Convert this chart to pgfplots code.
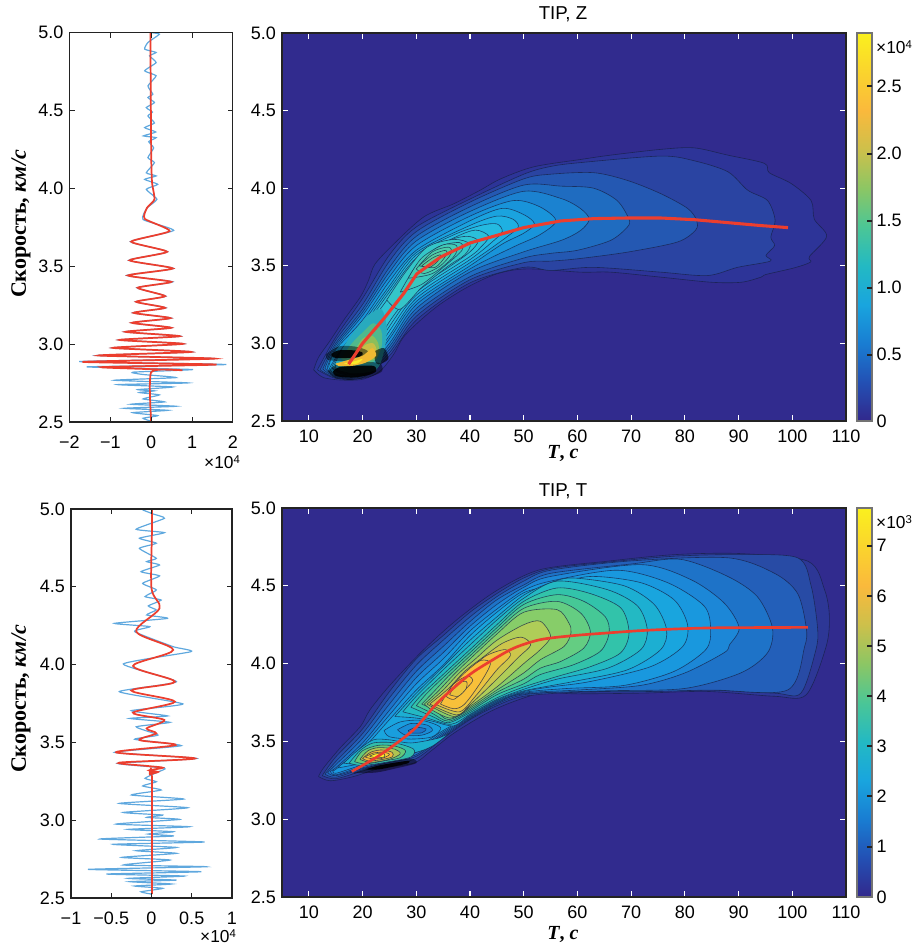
\documentclass[border=0pt]{standalone}
\usepackage{pgfplots}
\pgfplotsset{compat=1.18}
\usepackage{fontspec}
\setmainfont{Liberation Sans}
\newfontfamily\lserif{Liberation Serif}
\definecolor{bg}{RGB}{49,43,142}
\definecolor{cl}{RGB}{22,32,70}
\definecolor{fr}{RGB}{35,35,35}
\definecolor{rd}{RGB}{236,62,46}
\definecolor{bl}{RGB}{95,168,222}
\newcommand\pc[2]{\addplot[smooth,fill={rgb,255:#1},draw=cl,draw opacity=.75,line width=.45pt] coordinates {#2};}
\newcommand\pn[2]{\addplot[smooth,fill={rgb,255:#1},draw=none] coordinates {#2};}
\newcommand\ph[2]{\addplot[smooth,fill=black,fill opacity=#1,draw=none] coordinates {#2};}
\newcommand\rgbv[3]{red,#1;green,#2;blue,#3}
\pgfplotsset{
 colormap={par}{rgb255=(50,40,140) rgb255=(35,80,180) rgb255=(25,125,210) rgb255=(25,165,222) rgb255=(35,185,195) rgb255=(75,198,150) rgb255=(140,198,100) rgb255=(205,192,75) rgb255=(250,185,60) rgb255=(250,212,45) rgb255=(250,240,30)},
 lab/.style={font=\fontsize{13.5}{15}\selectfont},
 baseax/.style={scale only axis,axis on top,
   ticklabel style={lab},
   /pgf/number format/assume math mode=true,
   tick align=inside,tick pos=both,
   ymin=2.5,ymax=5,ytick={2.5,3,3.5,4,4.5,5},yticklabels={2.5,3.0,3.5,4.0,4.5,5.0},
   yticklabel style={xshift=-1pt},
   xticklabel pos=lower,yticklabel pos=left,
   scaled ticks=false},
 lftax/.style={baseax,axis line style={color=fr,line width=.8pt},xticklabel style={yshift=-7pt},
   tick style={color=fr,line width=.8pt},major tick length=4pt},
 heatax/.style={baseax,xmin=5,xmax=110,xtick={10,20,30,40,50,60,70,80,90,100,110},xticklabel style={yshift=-3pt},
   axis line style={color=fr,line width=1.9pt},
   tick style={color=white,line width=.9pt},major tick length=4.5pt,
   axis background/.style={fill=bg},clip=true,
   colormap name=par,colorbar,
   colorbar style={at={(1.0195,0)},anchor=south west,width=11.25pt,
     ticklabel style={lab},/pgf/number format/assume math mode=true,
     axis line style={color=black!55,line width=.8pt},
     tick align=inside,major tick length=0pt,ytick pos=right,yticklabel pos=right,xtick=\empty,scaled ticks=false,
     yticklabel style={xshift=0pt}}}
}
\begin{document}
\begin{tikzpicture}
\useasboundingbox (0,0) rectangle (692.25pt,708.75pt);
% ---------- top left
\begin{axis}[lftax,at={(52.1pt,392.25pt)},anchor=south west,width=122.6pt,height=292pt,
  xmin=-2,xmax=2,xtick={-2,-1,0,1,2},xticklabels={−2,−1,0,1,2}]
\addplot[bl,line width=.9pt,smooth,tension=.3] coordinates {(0,2.505)(-.2,2.524)(.16,2.541)(-.45,2.56)(.41,2.575)(-.66,2.588)(.61,2.601)(-.49,2.614)(.33,2.629)(-.2,2.648)(.2,2.674)(-.29,2.689)(.08,2.70)(-.33,2.708)(.53,2.725)(-.82,2.74)(.9,2.751)(-.9,2.768)(.61,2.785)(-.2,2.805)(-.45,2.82)(1.01,2.837)(-1.58,2.854)(1.84,2.869)(-1.76,2.888)(1.56,2.907)(-1.33,2.927)(1.0,2.95)(-.96,2.976)(.8,3.002)(-.8,3.027)(.72,3.051)(-.65,3.079)(.5,3.105)(-.48,3.137)(.49,3.167)(-.45,3.201)(.36,3.233)(-.38,3.272)(.36,3.308)(-.35,3.362)(.53,3.40)(-.6,3.441)(.55,3.486)(-.55,3.538)(.4,3.593)(-.51,3.658)(.55,3.73)(-.2,3.80)(-.1,3.875)(.14,3.93)(-.12,3.994)(.16,4.026)(-.16,4.058)(.12,4.08)(-.12,4.10)(.08,4.165)(-.08,4.197)(.06,4.26)(-.06,4.30)(.12,4.326)(-.19,4.337)(.11,4.362)(-.16,4.39)(.08,4.42)(-.08,4.465)(.03,4.49)(-.12,4.519)(.08,4.551)(-.08,4.583)(.04,4.605)(-.08,4.658)(.12,4.723)(-.16,4.755)(.12,4.808)(-.04,4.851)(.12,4.873)(-.16,4.894)(-.08,4.937)(.2,4.99)(0,5.0)};
\addplot[rd,line width=1.3pt,smooth,tension=.35] coordinates {(0,2.5)(0,2.82)(.76,2.832)(-1.23,2.852)(1.6,2.869)(-1.68,2.886)(1.56,2.907)(-1.29,2.927)(.98,2.95)(-.94,2.976)(.78,3.002)(-.78,3.027)(.70,3.051)(-.63,3.079)(.49,3.105)(-.47,3.137)(.47,3.167)(-.43,3.201)(.34,3.233)(-.37,3.272)(.34,3.308)(-.33,3.362)(.49,3.40)(-.57,3.441)(.53,3.486)(-.53,3.538)(.39,3.593)(-.49,3.658)(.45,3.726)(-.16,3.805)(-.1,3.876)(.08,3.93)(.02,4.04)(0,4.23)(-.02,5.0)};
\end{axis}
% ---------- top heat
\begin{axis}[heatax,at={(211.5pt,393pt)},anchor=south west,width=423pt,height=291pt,
  point meta min=0,point meta max=2.9,
  colorbar style={ymin=0,ymax=2.9,ytick={0,.5,1,1.5,2,2.5},yticklabels={0,0.5,1.0,1.5,2.0,2.5}}]
\pc{\rgbv{45}{52}{152}}{(10.9,2.83)(11.8,2.91)(14,3.02)(16.5,3.15)(19.6,3.30)(21.1,3.405)(22.3,3.51)(25.8,3.64)(31.4,3.815)(37,3.90)(41.9,3.987)(45.7,4.06)(51.9,4.138)(60.6,4.185)(66.2,4.213)(75.5,4.25)(81.7,4.26)(88,4.213)(94.8,4.16)(95.7,4.10)(99.8,4.03)(103.5,3.92)(104.1,3.80)(106.4,3.69)(103.2,3.56)(103.4,3.524)(100.4,3.487)(95.1,3.444)(94.2,3.427)(90.5,3.394)(84.9,3.394)(75.5,3.427)(66.2,3.459)(60.6,3.459)(50.6,3.48)(45,3.448)(39.5,3.362)(34.5,3.254)(30.7,3.147)(27.6,3.04)(25.8,2.93)(23.3,2.823)(20.2,2.77)(16.4,2.763)(12.7,2.78)(10.9,2.83)}
\pc{\rgbv{42}{68}{162}}{(11.6,2.83)(15,3.04)(20,3.29)(25,3.57)(30,3.75)(40,3.93)(50,4.09)(55,4.14)(60.6,4.165)(75.5,4.207)(81.7,4.177)(88,4.106)(91.7,3.987)(95.4,3.92)(96.8,3.793)(96,3.685)(96.7,3.63)(95.1,3.567)(95.9,3.53)(89.8,3.49)(84.2,3.437)(75.5,3.459)(63,3.49)(55,3.47)(50,3.49)(40,3.39)(30,3.15)(25,2.92)(20,2.78)(15,2.775)(11.6,2.83)}
\pc{\rgbv{36}{88}{178}}{(12.1,2.83)(15,3.02)(20,3.25)(25,3.53)(30,3.72)(40,3.91)(50,4.06)(55,4.09)(63,4.10)(69.3,4.05)(75.5,3.965)(80.5,3.87)(82.2,3.793)(82,3.73)(78.6,3.653)(69.3,3.588)(60,3.545)(55,3.53)(50,3.52)(40,3.41)(30,3.175)(25,2.94)(20,2.79)(15,2.78)(12.1,2.83)}
\pc{\rgbv{31}{108}{192}}{(12.6,2.835)(15,3.0)(20,3.22)(25,3.49)(30,3.69)(40,3.88)(50,4.02)(57,4.013)(63,4.0)(67.4,3.92)(69.6,3.80)(69.3,3.75)(66.2,3.664)(60,3.60)(55,3.58)(50,3.55)(40,3.43)(30,3.20)(25,2.96)(20,2.795)(15,2.785)(12.6,2.835)}
\pc{\rgbv{27}{130}{208}}{(13,2.84)(15,2.985)(20,3.20)(25,3.46)(30,3.66)(40,3.85)(50,3.98)(57,3.933)(60.6,3.868)(62.2,3.80)(60.6,3.728)(57,3.664)(50,3.59)(40,3.46)(30,3.225)(25,2.98)(20,2.80)(15,2.79)(13,2.84)}
\pc{\rgbv{24}{148}{218}}{(13.4,2.84)(15,2.97)(20,3.18)(25,3.43)(30,3.63)(40,3.82)(48,3.92)(53,3.88)(56,3.79)(53,3.70)(48,3.62)(40,3.48)(30,3.25)(25,3.0)(20,2.805)(15,2.795)(13.4,2.84)}
\pc{\rgbv{26}{163}{222}}{(13.7,2.85)(15,2.96)(20,3.15)(25,3.40)(30,3.60)(40,3.79)(46,3.87)(50,3.83)(52,3.77)(50,3.71)(46,3.64)(40,3.50)(30,3.27)(25,3.03)(20,2.81)(15,2.80)(13.7,2.85)}
\pc{\rgbv{30}{176}{226}}{(14,2.85)(16,2.96)(20,3.13)(25,3.37)(30,3.585)(40,3.76)(45,3.82)(48,3.80)(49,3.75)(47,3.69)(43,3.59)(40,3.52)(30,3.29)(25,3.05)(20,2.815)(16,2.805)(14,2.85)}
\pc{\rgbv{36}{186}{224}}{(14.3,2.85)(16,2.95)(20,3.11)(25,3.35)(30,3.57)(37,3.70)(42,3.76)(45,3.77)(46,3.72)(44,3.65)(40,3.54)(30,3.31)(25,3.08)(20,2.82)(16,2.81)(14.3,2.85)}
\pc{\rgbv{42}{191}{218}}{(14.6,2.85)(16,2.94)(20,3.09)(25,3.33)(30,3.55)(37,3.68)(41,3.73)(43.5,3.69)(42,3.62)(40,3.56)(30,3.33)(25,3.11)(20,2.825)(16,2.815)(14.6,2.85)}
\pc{\rgbv{46}{195}{210}}{(14.9,2.85)(16,2.93)(20,3.07)(25,3.30)(30,3.52)(36,3.66)(39.5,3.69)(41.5,3.66)(40,3.59)(36,3.49)(30,3.35)(25,3.14)(20,2.83)(16,2.82)(14.9,2.85)}
% centre blob
\pc{\rgbv{52}{198}{200}}{(24.5,3.28)(28,3.46)(32,3.62)(37,3.67)(40,3.64)(39,3.57)(36,3.50)(31,3.36)(27,3.22)(24.5,3.28)}
\pc{\rgbv{58}{200}{190}}{(27,3.33)(30,3.5)(34,3.62)(38,3.65)(38.5,3.6)(35,3.49)(31,3.38)(27,3.33)}
\pc{\rgbv{66}{203}{180}}{(28.5,3.42)(31,3.55)(35,3.635)(37.5,3.63)(37,3.56)(33,3.45)(28.5,3.42)}
\pc{\rgbv{76}{205}{170}}{(30,3.48)(33,3.59)(36,3.62)(36.5,3.58)(34.5,3.50)(31.5,3.45)(30,3.48)}
\pc{\rgbv{85}{205}{160}}{(30.5,3.5)(33,3.57)(35.5,3.60)(35.5,3.565)(33.5,3.49)(30.5,3.5)}
\pc{\rgbv{95}{205}{150}}{(31,3.5)(33,3.55)(34.5,3.57)(34,3.53)(32.5,3.49)(31,3.5)}
% left blob
\pn{\rgbv{40}{170}{190}}{(15,2.87)(16.5,2.98)(18.5,3.08)(21,3.18)(23.5,3.22)(24.5,3.1)(24,2.95)(22.5,2.83)(18,2.81)(15,2.87)}
\pn{\rgbv{80}{185}{140}}{(16,2.9)(18,3.0)(20,3.07)(22,3.13)(23.5,3.08)(23.5,2.97)(22,2.88)(19,2.87)(16,2.9)}
\pn{\rgbv{140}{190}{90}}{(18.5,2.95)(20,3.03)(21.8,3.05)(23,2.99)(22.5,2.9)(19.5,2.89)(18.5,2.95)}
\pn{\rgbv{200}{190}{70}}{(19,2.94)(20.5,2.99)(22,3.0)(22.6,2.95)(21.5,2.9)(19.5,2.9)(19,2.94)}
\ph{.45}{(13.2,2.93)(15.5,2.98)(18.5,2.98)(21,2.95)(20,2.90)(16.5,2.885)(13.5,2.895)(13.2,2.93)}
\ph{.9}{(14.2,2.93)(15.5,2.955)(18.5,2.955)(20,2.94)(19.5,2.915)(16.5,2.905)(14.5,2.91)(14.2,2.93)}
\ph{.45}{(13.5,2.82)(15,2.86)(18,2.875)(23,2.875)(23.6,2.82)(21,2.78)(18,2.765)(15,2.775)(13.5,2.82)}
\ph{.9}{(14.5,2.82)(15.5,2.845)(18,2.855)(22,2.855)(22.5,2.82)(21,2.795)(18,2.78)(15,2.79)(14.5,2.82)}
\ph{.6}{(22.3,2.95)(24,2.97)(24.8,2.90)(23,2.865)(22.3,2.89)(22.3,2.95)}
\pn{\rgbv{240}{185}{50}}{(15,2.87)(17,2.89)(20,2.92)(21.8,2.97)(22.5,2.92)(20.5,2.875)(18,2.855)(15.5,2.855)(15,2.87)}
\pn{\rgbv{250}{235}{40}}{(16.5,2.87)(18.5,2.885)(20,2.90)(19,2.87)(17.5,2.865)(16.5,2.87)}
\addplot[rd,line width=2.3pt] coordinates {(17.4,2.866)(20,3.0)(23.9,3.157)(27.6,3.319)(30.1,3.448)(34.5,3.556)(40,3.647)(45,3.696)(50,3.746)(56.9,3.789)(63.1,3.804)(69.3,3.808)(75.5,3.808)(81.8,3.797)(88,3.778)(94.2,3.759)(99.2,3.746)};
\end{axis}
% ---------- bottom left
\begin{axis}[lftax,at={(53.25pt,35.25pt)},anchor=south west,width=120.75pt,height=291.75pt,
  xmin=-1,xmax=1,xtick={-1,-.5,0,.5,1},xticklabels={−1,−0.5,0,0.5,1}]
\addplot[bl,line width=.9pt,smooth,tension=.3] coordinates {(0,2.525)(-.13,2.54)(.14,2.562)(-.21,2.577)(.25,2.59)(-.27,2.605)(.31,2.615)(-.29,2.626)(.41,2.641)(-.56,2.654)(.62,2.669)(-.79,2.684)(.68,2.701)(-.35,2.712)(.23,2.744)(-.37,2.761)(.31,2.787)(-.19,2.804)(.31,2.825)(-.48,2.845)(.66,2.86)(-.64,2.879)(.27,2.898)(-.04,2.911)(.27,2.926)(-.29,2.941)(.47,2.958)(-.44,2.975)(.35,3.005)(-.06,3.018)(.14,3.033)(-.35,3.05)(.45,3.08)(-.4,3.108)(.40,3.136)(-.25,3.162)(.12,3.194)(-.11,3.22)(.06,3.247)(-.08,3.269)(.08,3.31)(.16,3.335)(-.42,3.365)(.56,3.397)(-.46,3.436)(.37,3.479)(-.21,3.52)(.08,3.547)(-.19,3.6)(.23,3.629)(-.27,3.654)(.2,3.67)(-.25,3.704)(.39,3.747)(-.4,3.826)(.31,3.89)(-.35,4.004)(.49,4.083)(.27,4.115)(-.21,4.212)(-.02,4.244)(-.46,4.265)(.2,4.297)(-.06,4.319)(.06,4.351)(-.04,4.377)(.12,4.415)(-.08,4.437)(.06,4.48)(-.11,4.522)(.1,4.57)(-.13,4.597)(.1,4.64)(-.06,4.662)(.06,4.683)(-.15,4.747)(.06,4.78)(-.15,4.812)(.16,4.848)(-.19,4.87)(.16,4.94)(.02,4.968)(-.11,4.994)};
\addplot[rd,line width=1.3pt,smooth] coordinates {(.005,2.525)(.005,3.28)(-.02,3.295)(.08,3.31)(-.03,3.32)(.14,3.337)(-.04,3.348)(-.40,3.37)(.54,3.397)(-.44,3.436)(.30,3.483)(-.15,3.515)(.06,3.558)(-.06,3.59)(.16,3.644)(-.23,3.691)(.29,3.762)(-.25,3.833)(.29,3.890)(-.23,3.991)(.27,4.094)(-.19,4.212)(.10,4.362)(0,4.49)(.005,4.844)(.005,5.0)};
\end{axis}
% ---------- bottom heat
\begin{axis}[heatax,at={(211.5pt,36pt)},anchor=south west,width=423pt,height=291.75pt,
  point meta min=0,point meta max=7.75,
  colorbar style={ymin=0,ymax=7.75,ytick={0,1,2,3,4,5,6,7}}]
\pc{\rgbv{45}{55}{150}}{(11.8,3.274)(12.7,3.328)(15.8,3.457)(19.6,3.596)(21.4,3.704)(25.2,3.865)(31.4,4.09)(37.6,4.283)(45,4.47)(53.1,4.604)(65.6,4.658)(78,4.70)(90.4,4.707)(102.9,4.658)(106,4.475)(106.9,4.304)(106.3,4.11)(102.6,3.80)(96.7,3.79)(84.2,3.821)(71.8,3.81)(59.3,3.806)(53.8,3.815)(48.2,3.757)(43.2,3.682)(37,3.553)(32.6,3.435)(29.5,3.36)(23.3,3.328)(18.3,3.274)(14,3.247)(11.8,3.274)}
\pc{\rgbv{40}{75}{165}}{(12.5,3.28)(15,3.40)(20,3.58)(25,3.82)(30,4.03)(35,4.18)(40,4.33)(45,4.45)(50,4.55)(55,4.61)(65,4.65)(78,4.69)(90,4.70)(101,4.68)(103.5,4.5)(104.7,4.23)(104.4,4.09)(101.6,3.81)(96.7,3.81)(84.2,3.83)(71.8,3.82)(59.3,3.815)(50,3.79)(45,3.73)(40,3.64)(35,3.52)(30,3.39)(25,3.355)(20,3.31)(15,3.26)(12.5,3.28)}
\pc{\rgbv{35}{95}{185}}{(13,3.29)(15,3.37)(20,3.55)(25,3.78)(30,3.99)(35,4.15)(40,4.30)(45,4.43)(50,4.53)(55,4.60)(70,4.66)(88,4.68)(96.7,4.58)(101,4.45)(102.6,4.23)(102.3,4.11)(99.1,3.83)(85,3.83)(72,3.82)(59.3,3.82)(50,3.80)(45,3.74)(40,3.645)(35,3.53)(30,3.405)(25,3.365)(20,3.325)(15,3.27)(13,3.29)}
\pc{\rgbv{30}{115}{200}}{(13.5,3.30)(15,3.35)(20,3.52)(25,3.74)(30,3.95)(35,4.11)(40,4.27)(45,4.41)(50,4.505)(55,4.58)(70,4.64)(79.2,4.67)(88,4.56)(93.5,4.43)(96.3,4.23)(95.4,4.07)(90.4,3.94)(79.9,3.84)(65,3.825)(50,3.805)(45,3.745)(40,3.65)(35,3.54)(30,3.415)(25,3.375)(20,3.33)(15,3.28)(13.5,3.30)}
\pc{\rgbv{28}{135}{215}}{(14,3.31)(15,3.33)(20,3.49)(25,3.70)(30,3.91)(35,4.07)(40,4.24)(45,4.38)(50,4.49)(55,4.56)(71.8,4.636)(81.1,4.54)(87.3,4.39)(90.1,4.23)(88.3,4.12)(87.3,4.07)(80,3.94)(71.8,3.86)(60,3.83)(50,3.81)(45,3.75)(40,3.655)(35,3.55)(30,3.43)(25,3.385)(20,3.34)(15,3.285)(14,3.31)}
\pc{\rgbv{25}{152}{222}}{(14.5,3.32)(15,3.32)(20,3.47)(25,3.67)(30,3.87)(35,4.03)(40,4.21)(45,4.35)(50,4.47)(55,4.53)(67.4,4.60)(76.8,4.52)(83.6,4.37)(84.8,4.218)(83.9,4.09)(78,3.95)(68.7,3.86)(58,3.84)(50,3.815)(45,3.755)(40,3.66)(35,3.56)(30,3.445)(25,3.395)(20,3.35)(15,3.295)(14.5,3.32)}
\pc{\rgbv{25}{165}{222}}{(15.5,3.33)(16,3.35)(20,3.45)(25,3.64)(30,3.83)(35,3.99)(40,4.18)(45,4.33)(50,4.455)(55,4.50)(62.4,4.56)(71.8,4.52)(78,4.41)(80.5,4.25)(79.6,4.11)(73.6,3.98)(62.4,3.885)(55,3.85)(50,3.82)(45,3.76)(40,3.665)(35,3.57)(30,3.46)(25,3.405)(20,3.36)(15.5,3.33)}
% hole
\pc{\rgbv{25}{158}{222}}{(24,3.57)(27,3.625)(31,3.635)(34.5,3.59)(33,3.53)(29,3.515)(25,3.53)(24,3.57)}
\pc{\rgbv{26}{140}{214}}{(26.5,3.575)(29,3.615)(32,3.605)(33,3.57)(31,3.54)(28,3.54)(26.5,3.575)}
\pc{\rgbv{30}{118}{200}}{(28.5,3.57)(30,3.59)(31.8,3.58)(31,3.555)(29,3.555)(28.5,3.57)}
% right blob
\pc{\rgbv{28}{175}{210}}{(26,3.66)(30,3.81)(35,3.98)(40,4.15)(45,4.30)(50,4.44)(55,4.52)(59.3,4.55)(68.7,4.5)(74.3,4.38)(76.6,4.218)(75.5,4.09)(69.3,3.96)(59.3,3.885)(50,3.825)(45,3.765)(40,3.67)(37,3.60)(33,3.63)(30,3.65)(26,3.66)}
\pc{\rgbv{35}{185}{195}}{(27.5,3.69)(30,3.79)(35,3.96)(40,4.12)(45,4.28)(50,4.42)(56.2,4.53)(65.6,4.475)(71.2,4.37)(73,4.218)(71.8,4.09)(65.6,3.97)(56.2,3.90)(50,3.835)(45,3.77)(40,3.675)(36.5,3.61)(32,3.65)(27.5,3.69)}
\pc{\rgbv{50}{195}{170}}{(29,3.72)(31,3.80)(35,3.93)(40,4.09)(45,4.25)(50,4.40)(56.2,4.486)(62.4,4.45)(68.1,4.357)(69.6,4.197)(68,4.068)(62.4,3.98)(56.2,3.917)(50,3.85)(45,3.78)(40,3.685)(36,3.62)(33,3.66)(29,3.72)}
\pc{\rgbv{70}{200}{150}}{(30,3.73)(32,3.81)(35,3.91)(40,4.07)(45,4.23)(50,4.38)(56.2,4.443)(61.2,4.40)(65.2,4.30)(65.9,4.197)(64.3,4.08)(59.3,3.993)(53.1,3.93)(50,3.87)(45,3.80)(40,3.695)(36,3.63)(33,3.68)(30,3.73)}
\pc{\rgbv{100}{205}{130}}{(31,3.74)(33,3.81)(36,3.92)(40,4.05)(45,4.21)(50,4.355)(56.2,4.40)(60.6,4.325)(62.4,4.207)(61.2,4.10)(56.9,4.014)(53.1,3.971)(50,3.90)(45,3.815)(40,3.705)(36,3.64)(33.5,3.70)(31,3.74)}
\pc{\rgbv{135}{205}{105}}{(31.5,3.74)(34,3.82)(37,3.93)(40,4.03)(45,4.19)(50,4.33)(56.2,4.347)(58.4,4.261)(58.8,4.197)(57.5,4.11)(53.1,4.025)(50,3.94)(45,3.83)(40,3.715)(36.5,3.65)(33,3.70)(31.5,3.74)}
\pc{\rgbv{175}{205}{88}}{(32,3.74)(35,3.83)(38,3.94)(41,4.03)(45,4.15)(50,4.25)(53.1,4.272)(55,4.175)(53.1,4.09)(50,4.0)(45,3.85)(40,3.725)(37,3.66)(32,3.74)}
\pc{\rgbv{205}{198}{75}}{(32.5,3.74)(36,3.84)(39,3.95)(42,4.03)(46,4.13)(49.5,4.17)(51.3,4.12)(49,4.04)(45,3.90)(40,3.735)(37.5,3.67)(32.5,3.74)}
\pc{\rgbv{235}{195}{65}}{(33.5,3.74)(37,3.85)(40,3.96)(43,4.05)(46.5,4.09)(47.5,4.05)(45,3.96)(41,3.79)(38,3.69)(33.5,3.74)}
\pc{\rgbv{248}{192}{58}}{(34.5,3.74)(36.5,3.85)(39,3.94)(42,4.02)(43.8,4.0)(42,3.88)(39,3.74)(37,3.71)(34.5,3.74)}
\pc{\rgbv{250}{190}{55}}{(35.5,3.79)(37,3.87)(39.5,3.92)(40.5,3.89)(39,3.83)(37,3.77)(35.5,3.79)}
\pc{\rgbv{235}{195}{60}}{(36.2,3.80)(37.5,3.87)(39.3,3.885)(39.3,3.84)(37.8,3.79)(36.2,3.80)}
% left blob
\pc{\rgbv{28}{175}{205}}{(16.5,3.36)(19,3.44)(22,3.51)(25,3.51)(29,3.49)(34,3.52)(36,3.55)(33,3.47)(30,3.43)(25,3.395)(20,3.355)(16.5,3.36)}
\ph{.45}{(18,3.295)(22,3.345)(25,3.37)(29,3.39)(30,3.36)(26,3.325)(22.5,3.30)(18,3.295)}
\ph{.9}{(20.5,3.32)(23,3.345)(25.5,3.36)(28.5,3.375)(28.5,3.36)(26,3.34)(23,3.32)(20.5,3.32)}
\pc{\rgbv{50}{190}{170}}{(17.5,3.36)(19.5,3.44)(22,3.49)(26,3.49)(29.5,3.45)(29,3.40)(25,3.37)(20,3.345)(17.5,3.36)}
\pc{\rgbv{100}{200}{120}}{(18.5,3.37)(20,3.44)(23,3.475)(26,3.47)(28,3.44)(27,3.395)(24,3.375)(20.5,3.355)(18.5,3.37)}
\pc{\rgbv{175}{195}{80}}{(19.5,3.385)(21,3.44)(23,3.46)(26,3.45)(27,3.42)(25,3.385)(21.5,3.365)(19.5,3.385)}
\pc{\rgbv{240}{182}{60}}{(20,3.39)(21.5,3.43)(23.5,3.445)(25.5,3.43)(25.5,3.40)(23,3.38)(21,3.375)(20,3.39)}
\pc{\rgbv{250}{205}{50}}{(20.5,3.40)(22,3.425)(24,3.43)(25,3.415)(23.5,3.39)(21.5,3.39)(20.5,3.40)}
\pc{\rgbv{250}{240}{40}}{(21.3,3.405)(22.5,3.42)(24,3.42)(24,3.40)(22.5,3.395)(21.3,3.405)}
\addplot[rd,line width=2pt,smooth] coordinates {(18,3.307)(23.3,3.414)(29.5,3.575)(33.9,3.746)(39.5,3.918)(43.8,4.015)(48.2,4.10)(53.1,4.154)(59.3,4.18)(65.6,4.197)(71.8,4.212)(78,4.222)(84.2,4.229)(90.4,4.231)(102.9,4.233)};
\end{axis}
% ---------- colour bar ticks
\foreach \y in {355,288,221,154,86,847,796,746,696,646,596,546}
  \draw[fr,line width=.8pt] ({872*0.75pt},{(945-\y)*0.75pt}) -- ++(-4pt,0pt);
% ---------- text
\node[rotate=90,font=\lserif\bfseries\fontsize{16.5}{18}\selectfont] at ({21*0.75pt},{(945-224)*0.75pt}) {Скорость, \textit{км/с}};
\node[rotate=90,font=\lserif\bfseries\fontsize{16.5}{18}\selectfont] at ({21*0.75pt},{(945-699)*0.75pt}) {Скорость, \textit{км/с}};
\node[font=\lserif\bfseries\fontsize{15}{16}\selectfont] at ({563*0.75pt},{(945-454)*0.75pt}) {\textit{T}, \textit{c}};
\node[font=\lserif\bfseries\fontsize{15}{16}\selectfont] at ({563*0.75pt},{(945-934)*0.75pt}) {\textit{T}, \textit{c}};
\node[font=\fontsize{14}{15}\selectfont] at ({563*0.75pt},{(945-14)*0.75pt}) {TIP, Z};
\node[font=\fontsize{14}{15}\selectfont] at ({563*0.75pt},{(945-491)*0.75pt}) {TIP, T};
\node[font=\fontsize{13}{14}\selectfont,inner sep=0pt] at ({222*0.75pt},{(945-462)*0.75pt}) {×10\raisebox{4pt}{\fontsize{8.5}{9}\selectfont 4}};
\node[font=\fontsize{13}{14}\selectfont,inner sep=0pt] at ({218*0.75pt},{(945-936)*0.75pt}) {×10\raisebox{4pt}{\fontsize{8.5}{9}\selectfont 4}};
\node[font=\fontsize{13}{14}\selectfont,inner sep=0pt] at ({894*0.75pt},{(945-47)*0.75pt}) {×10\raisebox{4pt}{\fontsize{8.5}{9}\selectfont 4}};
\node[font=\fontsize{13}{14}\selectfont,inner sep=0pt] at ({894*0.75pt},{(945-522)*0.75pt}) {×10\raisebox{4pt}{\fontsize{8.5}{9}\selectfont 3}};
\end{tikzpicture}
\end{document}
